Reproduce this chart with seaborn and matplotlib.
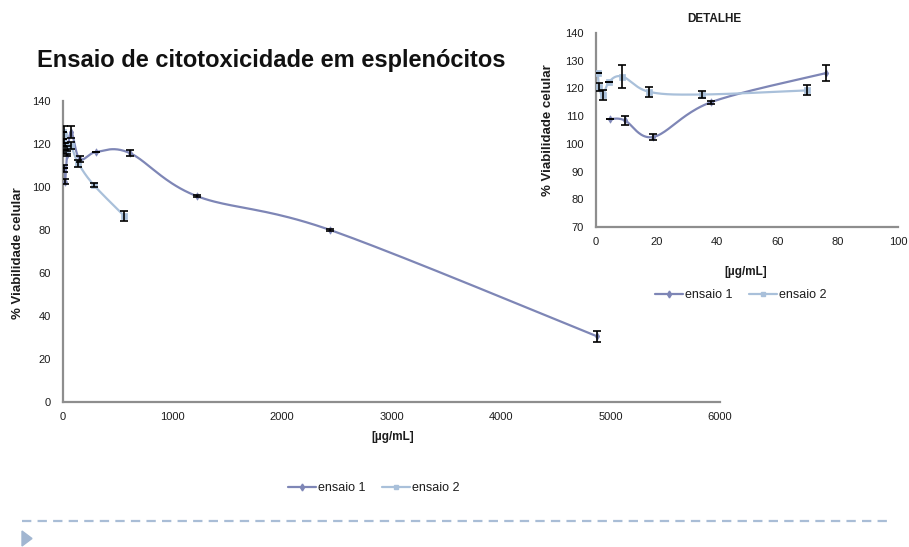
import numpy as np
import pandas as pd
import matplotlib
matplotlib.use("Agg")
import matplotlib.pyplot as plt
from matplotlib.lines import Line2D
from matplotlib.patches import Polygon
import seaborn as sns

# ---- data ----------------------------------------------------------------
series_names = ["ensaio 1", "ensaio 2"]

conc_e1 = [4.76, 9.5, 19, 38, 76, 152, 305, 610, 1220, 2440, 4880]
viab_e1 = [109.0, 108.5, 102.5, 115.0, 125.5, 113.0, 116.3, 115.8, 95.8, 80.0, 30.5]
err_e1 = [0.0, 1.7, 1.0, 0.5, 2.8, 1.5, 0.0, 1.5, 0.6, 0.3, 2.5]

conc_e2 = [0.55, 1.09, 2.19, 4.375, 8.75, 17.5, 35, 70, 140, 280, 560]
viab_e2 = [125.6, 120.5, 117.5, 122.5, 124.3, 118.8, 117.8, 119.3, 111.0, 101.0, 86.5]
err_e2 = [0.0, 1.6, 1.8, 0.0, 4.0, 1.8, 1.2, 1.8, 1.5, 1.0, 2.5]

main_xticks = [0, 1000, 2000, 3000, 4000, 5000, 6000]
main_yticks = [0, 20, 40, 60, 80, 100, 120, 140]
detail_xticks = [0, 20, 40, 60, 80, 100]
detail_yticks = [70, 80, 90, 100, 110, 120, 130, 140]

title = "Ensaio de citotoxicidade em esplenócitos"
detail_title = "DETALHE"
xlabel = "[µg/mL]"
ylabel = "% Viabilidade celular"

# ---- style ---------------------------------------------------------------
sns.set_theme(style="white")
plt.rcParams["font.family"] = ["Liberation Sans", "DejaVu Sans"]

colors = {"ensaio 1": "#7e86b6", "ensaio 2": "#a9c0da"}
markers = {"ensaio 1": "d", "ensaio 2": "s"}
TXT = "#1c1c1c"
SPINE = "#8e8e8e"

df = pd.concat([
    pd.DataFrame({"conc": conc_e1, "viab": viab_e1, "err": err_e1, "serie": "ensaio 1"}),
    pd.DataFrame({"conc": conc_e2, "viab": viab_e2, "err": err_e2, "serie": "ensaio 2"}),
], ignore_index=True)

W, H = 909, 547
fig = plt.figure(figsize=(W / 100, H / 100), dpi=100)


def frac_box(left, top, right, bottom):
    return [left / W, 1 - bottom / H, (right - left) / W, (bottom - top) / H]


ax = fig.add_axes(frac_box(63, 101, 720, 402))
axd = fig.add_axes(frac_box(596, 33, 898, 227))


def smooth_curve(axis, xs, ys, n=40):
    """Bezier smoothing (Catmull-Rom style) done in display space."""
    pts = axis.transData.transform(np.column_stack([xs, ys]))
    P = np.vstack([pts[0], pts, pts[-1]])
    t = np.linspace(0, 1, n)[:, None]
    segs = []
    for i in range(1, len(P) - 2):
        p0, p1, p2, p3 = P[i - 1], P[i], P[i + 1], P[i + 2]
        c1 = p1 + (p2 - p0) / 6
        c2 = p2 - (p3 - p1) / 6
        segs.append((1 - t) ** 3 * p1 + 3 * (1 - t) ** 2 * t * c1
                    + 3 * (1 - t) * t ** 2 * c2 + t ** 3 * p2)
    return axis.transData.inverted().transform(np.vstack(segs))


def style_axis(axis, xlim, ylim, xticks, yticks):
    axis.set_xlim(*xlim)
    axis.set_ylim(*ylim)
    axis.set_xticks(xticks)
    axis.set_yticks(yticks)
    axis.set_xticklabels([str(v) for v in xticks])
    axis.set_yticklabels([str(v) for v in yticks])
    axis.tick_params(length=0, labelsize=8, labelcolor=TXT)
    axis.tick_params(axis="y", pad=9)
    axis.tick_params(axis="x", pad=7)
    for s in ("top", "right"):
        axis.spines[s].set_visible(False)
    for s in ("left", "bottom"):
        axis.spines[s].set_color(SPINE)
        axis.spines[s].set_linewidth(1.6)
    axis.grid(False)
    axis.set_xlabel("")
    axis.set_ylabel("")
    axis.set_facecolor("none")


def draw_series(axis, data, xmax):
    for name in series_names:
        sub = data[(data["serie"] == name) & (data["conc"] <= xmax)]
        curve = smooth_curve(axis, sub["conc"].values, sub["viab"].values)
        cdf = pd.DataFrame({"x": curve[:, 0], "y": curve[:, 1]})
        sns.lineplot(data=cdf, x="x", y="y", sort=False, ax=axis,
                     color=colors[name], linewidth=1.6, zorder=2)
        axis.errorbar(sub["conc"], sub["viab"], yerr=sub["err"], fmt="none",
                      ecolor="black", elinewidth=1.2, capsize=3, capthick=1.2, zorder=4)
        sns.scatterplot(data=sub, x="conc", y="viab", ax=axis, color=colors[name],
                        marker=markers[name], s=14, edgecolor=colors[name],
                        linewidth=0.5, zorder=3, legend=False)


# main chart
style_axis(ax, (0, 6000), (0, 140), main_xticks, main_yticks)
draw_series(ax, df, 6000)
style_axis(ax, (0, 6000), (0, 140), main_xticks, main_yticks)

# detail inset
style_axis(axd, (0, 100), (70, 140), detail_xticks, detail_yticks)
draw_series(axd, df, 100)
style_axis(axd, (0, 100), (70, 140), detail_xticks, detail_yticks)

# texts
fig.text(37 / W, 1 - 61 / H, title, fontsize=17, fontweight="bold", color="#111111",
         ha="left", va="center")
fig.text(18 / W, 1 - 253 / H, ylabel, rotation=90, fontsize=9.5, fontweight="bold",
         color=TXT, ha="center", va="center")
fig.text(393 / W, 1 - 437 / H, xlabel, fontsize=8.5, fontweight="bold",
         color=TXT, ha="center", va="center")
fig.text(714 / W, 1 - 19 / H, detail_title, fontsize=8.5, fontweight="bold",
         color=TXT, ha="center", va="center")
fig.text(548 / W, 1 - 130 / H, ylabel, rotation=90, fontsize=9.5, fontweight="bold",
         color=TXT, ha="center", va="center")
fig.text(746 / W, 1 - 272 / H, xlabel, fontsize=8.5, fontweight="bold",
         color=TXT, ha="center", va="center")

handles = [Line2D([0], [0], color=colors[n], lw=1.6, marker=markers[n],
                  markersize=3.5, markeredgecolor=colors[n]) for n in series_names]
fig.legend(handles, series_names, loc="center", bbox_to_anchor=(374 / W, 1 - 488 / H),
           ncol=2, frameon=False, fontsize=9, handlelength=2.2, handletextpad=0.2,
           columnspacing=1.3, labelcolor=TXT)
fig.legend(handles, series_names, loc="center", bbox_to_anchor=(741 / W, 1 - 295 / H),
           ncol=2, frameon=False, fontsize=9, handlelength=2.2, handletextpad=0.2,
           columnspacing=1.3, labelcolor=TXT)

# slide footer decoration
fig.add_artist(Line2D([22 / W, 893 / W], [1 - 521 / H, 1 - 521 / H],
                      color="#a9bdd6", lw=1.6, dashes=(4.2, 2.8)))
fig.add_artist(Polygon([[22 / W, 1 - 531 / H], [32 / W, 1 - 538.5 / H], [22 / W, 1 - 546 / H]],
                       closed=True, color="#a1b6d1", transform=fig.transFigure))

fig.savefig("out.png", dpi=100)
